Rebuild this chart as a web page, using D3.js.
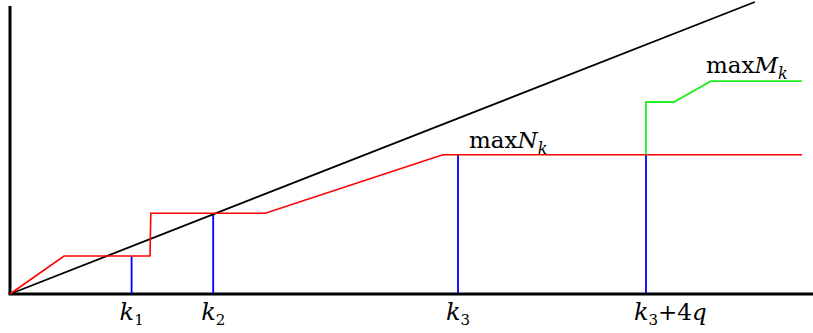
<!DOCTYPE html>
<html>
<head>
<meta charset="utf-8">
<script src="https://cdn.jsdelivr.net/npm/d3@7"></script>
<style>
  body { margin: 0; background: #fff; }
  text { font-family: "DejaVu Serif", serif; }
</style>
</head>
<body>
<svg id="my_svg"></svg>
<script>
var width = 813, height = 333;
var svg = d3.select("#my_svg").attr("width", width).attr("height", height);

// data, in chart units
var diagonal = [[0, 0], [93.1, 36.5]];
var maxN = [[0, 0], [6.75, 4.75], [17.5, 4.75], [17.6, 10.1], [31.9, 10.1], [54.1, 17.4], [99, 17.4]];
var maxM = [[79.5, 17.4], [79.5, 24], [83, 24], [87.6, 26.6], [99, 26.6]];
var ticks = [15.2, 25.4, 56, 79.5];
var tickTops = [4.75, 10.1, 17.4, 17.4];
var tickLabels = [["k", "1", ""], ["k", "2", ""], ["k", "3", ""], ["k", "3", "+4q"]];

var x = d3.scaleLinear().domain([0, 100]).range([10, 810]);
var y = d3.scaleLinear().domain([0, 36]).range([294, 6]);

var line = d3.line()
  .x(function (d) { return x(d[0]); })
  .y(function (d) { return y(d[1]); });

// axes
svg.append("line")
  .attr("x1", x(0)).attr("y1", y(0)).attr("x2", x(0)).attr("y2", y(36))
  .attr("stroke", "#000").attr("stroke-width", 3);
svg.append("line")
  .attr("x1", x(0) - 1.5).attr("y1", y(0)).attr("x2", width).attr("y2", y(0))
  .attr("stroke", "#000").attr("stroke-width", 3);

// blue verticals
svg.selectAll(".tick")
  .data(ticks)
  .enter().append("line")
  .attr("x1", function (d) { return x(d); })
  .attr("x2", function (d) { return x(d); })
  .attr("y1", y(0) - 1)
  .attr("y2", function (d, i) { return y(tickTops[i]); })
  .attr("stroke", "#0000ff").attr("stroke-width", 1.8);

svg.append("path").attr("d", line(diagonal))
  .attr("fill", "none").attr("stroke", "#000").attr("stroke-width", 1.8);
svg.append("path").attr("d", line(maxN))
  .attr("fill", "none").attr("stroke", "#ff0000").attr("stroke-width", 1.6);
svg.append("path").attr("d", line(maxM))
  .attr("fill", "none").attr("stroke", "#22ee22").attr("stroke-width", 1.8);

// labels
function maxLabel(px, py, letter) {
  var t = svg.append("text").attr("x", px).attr("y", py).attr("font-size", 23);
  t.append("tspan").text("max");
  t.append("tspan").attr("font-style", "italic").text(letter);
  t.append("tspan").attr("font-style", "italic").attr("font-size", 16).attr("dy", 6).text("k");
}
maxLabel(469, 148, "N");
maxLabel(706, 73, "M");

var lbl = svg.selectAll(".lbl")
  .data(ticks)
  .enter().append("text")
  .attr("x", function (d) { return x(d) - 12; })
  .attr("y", 320)
  .attr("font-size", 24);
lbl.append("tspan").attr("font-style", "italic").text(function (d, i) { return tickLabels[i][0]; });
lbl.append("tspan").attr("font-size", 15).attr("dy", 5).text(function (d, i) { return tickLabels[i][1]; });
lbl.append("tspan").attr("dy", -5).attr("font-size", 23)
  .html(function (d, i) {
    var s = tickLabels[i][2];
    return s ? "+4<tspan font-style='italic'>q</tspan>" : "";
  });
</script>
</body>
</html>
